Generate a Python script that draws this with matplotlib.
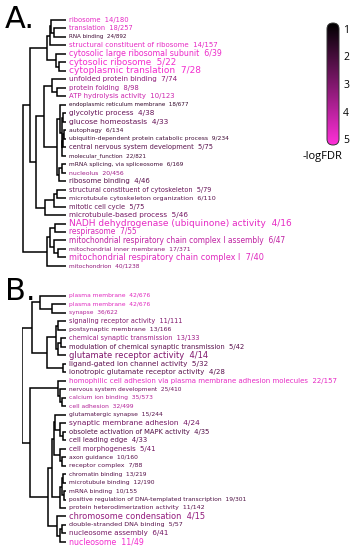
import numpy as np
import matplotlib.pyplot as plt
from matplotlib.colors import LinearSegmentedColormap, Normalize
from matplotlib.patches import FancyBboxPatch

# panel A terms
terms_a = ["ribosome", "translation", "RNA binding", "structural constituent of ribosome",
           "cytosolic large ribosomal subunit", "cytosolic ribosome", "cytoplasmic translation",
           "unfolded protein binding", "protein folding", "ATP hydrolysis activity",
           "endoplasmic reticulum membrane", "glycolytic process", "glucose homeostasis",
           "autophagy", "ubiquitin-dependent protein catabolic process",
           "central nervous system development", "molecular_function",
           "mRNA splicing, via spliceosome", "nucleolus", "ribosome binding",
           "structural constituent of cytoskeleton", "microtubule cytoskeleton organization",
           "mitotic cell cycle", "microtubule-based process",
           "NADH dehydrogenase (ubiquinone) activity", "respirasome",
           "mitochondrial respiratory chain complex I assembly", "mitochondrial inner membrane",
           "mitochondrial respiratory chain complex I", "mitochondrion"]
hits_a = [14, 18, 24, 14, 6, 5, 7, 7, 8, 10, 18, 4, 4, 6, 9, 5, 22, 6, 20, 4,
          5, 6, 5, 5, 4, 7, 6, 17, 7, 40]
sizes_a = [180, 257, 892, 157, 39, 22, 28, 74, 98, 123, 677, 38, 33, 134, 234, 75, 821, 169, 456, 46,
           79, 110, 75, 46, 16, 55, 47, 371, 40, 1238]
logfdr_a = [4.6, 4.5, 2.0, 4.6, 4.7, 4.8, 4.8, 3.2, 3.6, 4.2, 1.8, 2.6, 2.6, 2.0, 2.0, 2.4, 2.0, 2.0, 3.5, 2.4,
            2.6, 2.4, 2.6, 2.8, 4.6, 4.4, 4.0, 3.2, 4.5, 3.3]

# panel B terms
terms_b = ["plasma membrane", "plasma membrane", "synapse", "signaling receptor activity",
           "postsynaptic membrane", "chemical synaptic transmission",
           "modulation of chemical synaptic transmission", "glutamate receptor activity",
           "ligand-gated ion channel activity", "ionotropic glutamate receptor activity",
           "homophilic cell adhesion via plasma membrane adhesion molecules",
           "nervous system development", "calcium ion binding", "cell adhesion",
           "glutamatergic synapse", "synaptic membrane adhesion",
           "obsolete activation of MAPK activity", "cell leading edge", "cell morphogenesis",
           "axon guidance", "receptor complex", "chromatin binding", "microtubule binding",
           "mRNA binding", "positive regulation of DNA-templated transcription",
           "protein heterodimerization activity", "chromosome condensation",
           "double-stranded DNA binding", "nucleosome assembly", "nucleosome"]
hits_b = [42, 42, 36, 11, 13, 13, 5, 4, 5, 4, 22, 25, 35, 32, 15, 4, 4, 4, 5, 10,
          7, 13, 12, 10, 19, 11, 4, 5, 6, 11]
sizes_b = [676, 676, 622, 111, 166, 133, 42, 14, 32, 28, 157, 410, 573, 499, 244, 24, 35, 33, 41, 160,
           88, 219, 190, 155, 301, 142, 15, 57, 41, 49]
logfdr_b = [4.5, 4.5, 3.8, 3.0, 2.6, 3.5, 2.4, 3.0, 2.5, 2.4, 4.6, 2.7, 3.8, 3.8, 2.3, 2.8, 2.3, 2.5, 2.8, 2.3,
            2.4, 2.3, 2.3, 2.3, 2.2, 2.4, 3.3, 2.3, 2.8, 4.8]

# dendrograms: (left, right, merge height); ints are leaf indices
ribo_a = ((((1, 2, 12), 0, 15), 3, 16), (4, (5, 6, 7), 10), 19)
chap_a = (7, (8, 9, 9), 14)
misc_a = ((10, ((11, 12, 3), (((13, 14, 2), 15, 3), 16, 4), 4.5), 6), ((17, 18, 4), 19, 7), 9)
cyto_a = (((20, 21, 9), 22, 12), 23, 21)
mito_a = (((24, 25, 11), (26, (27, 28, 8), 12), 16), 29, 19)
rest_a = ((chap_a, misc_a, 22), cyto_a, 30)
tree_a = ((ribo_a, rest_a, 36), mito_a, 43)

rec_b = (((3, 4, 8), ((5, 6, 5), 7, 8), 10), (8, 9, 3), 19)
memb_b = ((0, (1, 2, 14), 26), rec_b, 34)
adh_b = (10, (11, (12, 13, 4), 6), 8)
syn_b = ((14, (15, (16, 17, 3), 6), 11), (18, (19, 20, 4), 6), 12)
chrom_b = (((21, 22, 3), (23, 24, 2), 4), 25, 6)
nuc_b = (26, ((27, 28, 4), 29, 6), 9)
tree_b = (memb_b, (adh_b, ((syn_b, chrom_b, 14), nuc_b, 18), 36), 44)

cmap = LinearSegmentedColormap.from_list("fdr", ["#000000", "#ff2fd9"])
norm = Normalize(1, 5)

W, H = 358, 550
fig = plt.figure(figsize=(W / 100, H / 100), dpi=100)


def draw_tree(ax, node):
    if isinstance(node, int):
        return node, 0.0
    left, right, h = node
    y1, h1 = draw_tree(ax, left)
    y2, h2 = draw_tree(ax, right)
    ax.plot([h1, h, h, h2], [y1, y1, y2, y2], color="black", lw=1.1,
            solid_joinstyle="miter", solid_capstyle="butt")
    return (y1 + y2) / 2, h


def panel(tree, terms, hits, sizes, logfdr, top_px, step_px, fs0, fs1, letter, letter_y):
    n = len(terms)
    hmax = 44
    ax = fig.add_axes([22 / W, 1 - (top_px + n * step_px) / H, 44 / W, n * step_px / H])
    draw_tree(ax, tree)
    ax.set_xlim(hmax, 0)
    ax.set_ylim(n - 0.5, -0.5)
    ax.axis("off")
    for i, t in enumerate(terms):
        # label size grows with the share of hits in the term
        fs = fs0 + fs1 * np.sqrt(hits[i] / sizes[i])
        ax.text(-3, i, f"{t}  {hits[i]}/{sizes[i]}", fontsize=fs, color=cmap(norm(logfdr[i])),
                ha="left", va="center", clip_on=False)
    fig.text(5 / W, 1 - letter_y / H, letter, fontsize=22, ha="left", va="center")


step = 8.48
panel(tree_a, terms_a, hits_a, sizes_a, logfdr_a, 20 - step / 2, step, 2.96, 6.96, "A.", 19)
panel(tree_b, terms_b, hits_b, sizes_b, logfdr_b, 296 - step / 2, step, 2.74, 6.24, "B.", 292)

# colorbar with rounded ends
cax = fig.add_axes([327 / W, 1 - 145 / H, 12 / W, 122 / H])
grad = np.linspace(1, 5, 256).reshape(-1, 1)
im = cax.imshow(grad, cmap=cmap, norm=norm, aspect="auto", extent=(0, 1, 5.2, 0.8))
cax.set_xlim(0, 1)
cax.set_ylim(5.2, 0.8)
box = FancyBboxPatch((0, 0), 1, 1, boxstyle="round,pad=0,rounding_size=0.5",
                     mutation_aspect=12 / 122, transform=cax.transAxes,
                     facecolor="none", edgecolor="#333333", lw=0.7, clip_on=False)
cax.add_patch(box)
im.set_clip_path(box)
cax.yaxis.tick_right()
cax.set_yticks([1, 2, 3, 4, 5])
cax.set_xticks([])
cax.tick_params(length=0, pad=3, labelsize=7.5)
for lbl in cax.get_yticklabels():
    lbl.set_family("Open Sans")
for s in cax.spines.values():
    s.set_visible(False)
fig.text(322 / W, 1 - 157 / H, "-logFDR", fontsize=8, family="Open Sans", ha="center", va="center")

fig.savefig("out.png", dpi=100)
